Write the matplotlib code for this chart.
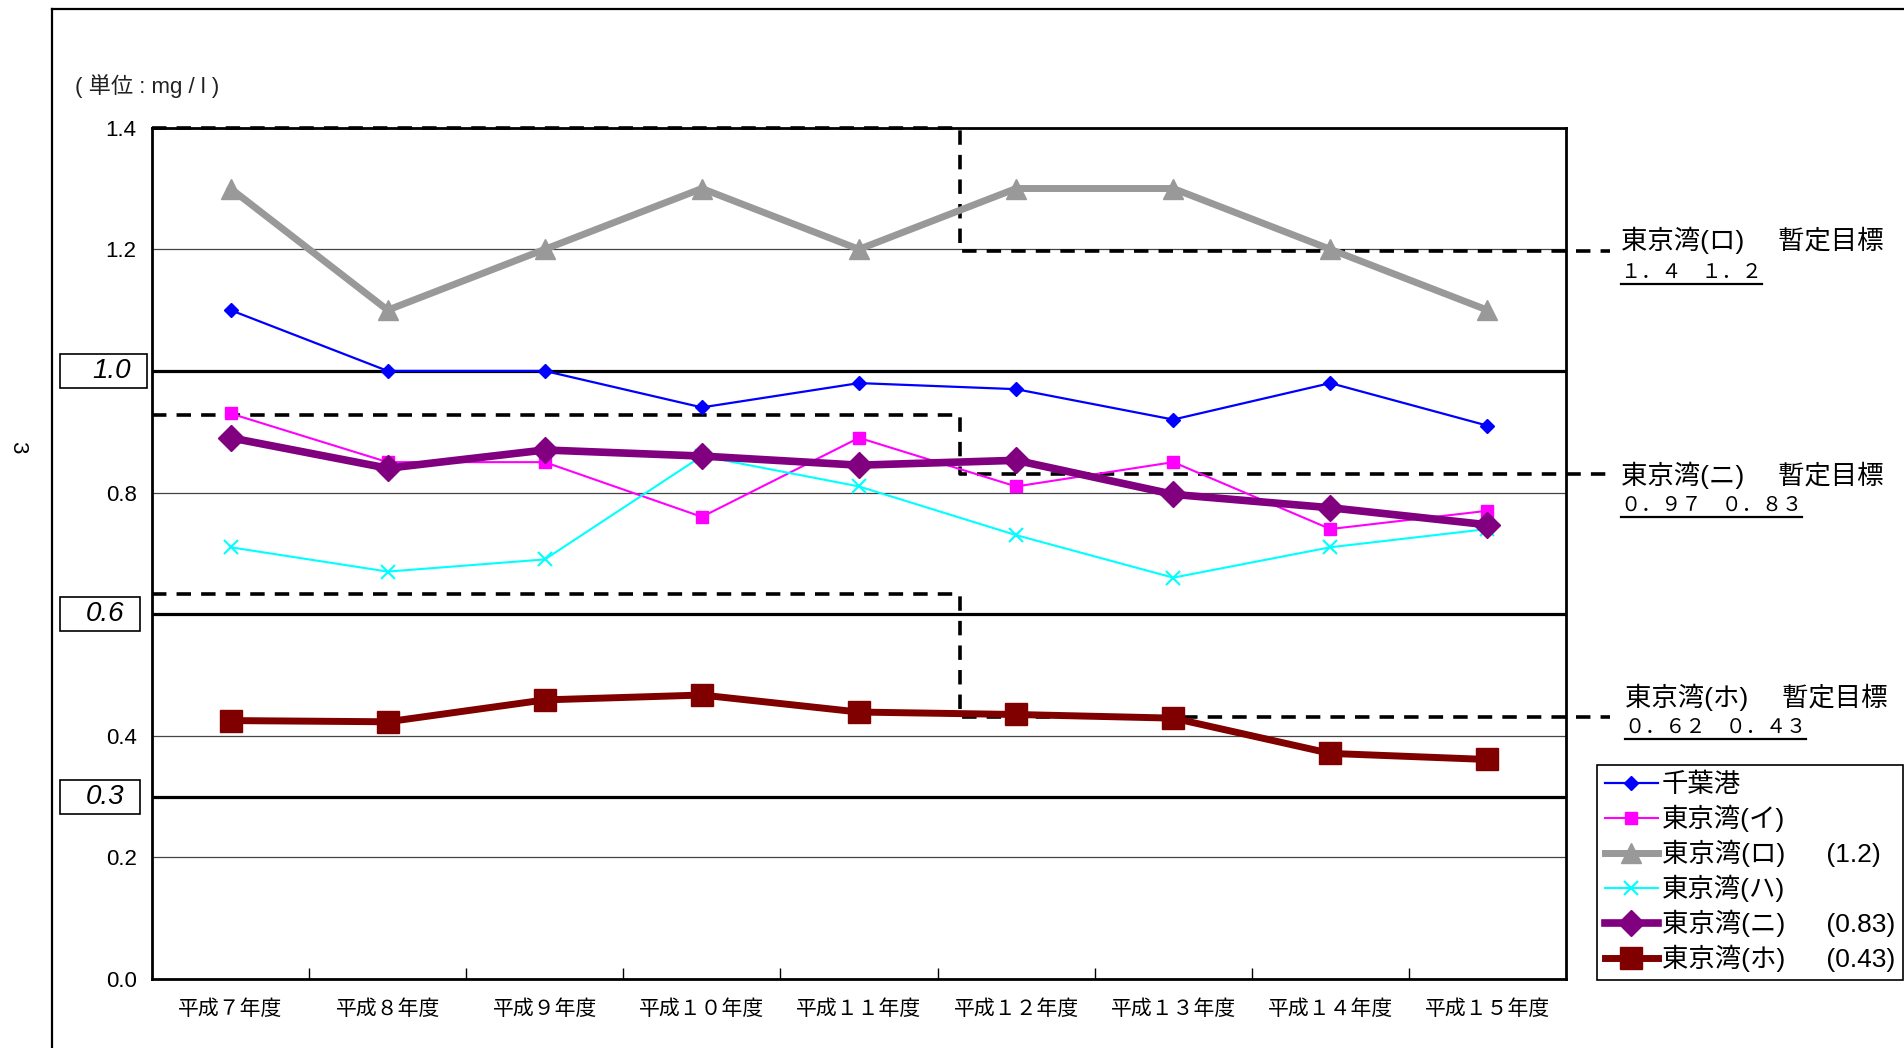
import numpy as np
import matplotlib
matplotlib.use("Agg")
import matplotlib.pyplot as plt
from matplotlib.lines import Line2D
from matplotlib.patches import Rectangle
from matplotlib.transforms import blended_transform_factory

plt.rcParams['font.family'] = ['Liberation Sans', 'Noto Sans CJK JP', 'DejaVu Sans']

years = ['平成７年度', '平成８年度', '平成９年度', '平成１０年度', '平成１１年度',
         '平成１２年度', '平成１３年度', '平成１４年度', '平成１５年度']

chiba = [1.10, 1.00, 1.00, 0.94, 0.98, 0.97, 0.92, 0.98, 0.91]
wan_i = [0.93, 0.85, 0.85, 0.76, 0.89, 0.81, 0.85, 0.74, 0.77]
wan_ro = [1.3, 1.1, 1.2, 1.3, 1.2, 1.3, 1.3, 1.2, 1.1]
wan_ha = [0.71, 0.67, 0.69, 0.86, 0.81, 0.73, 0.66, 0.71, 0.74]
wan_ni = [0.89, 0.84, 0.87, 0.86, 0.845, 0.853, 0.797, 0.775, 0.747]
wan_ho = [0.425, 0.423, 0.459, 0.467, 0.439, 0.435, 0.429, 0.371, 0.361]

labels = ['千葉港', '東京湾(イ)', '東京湾(ロ)　  (1.2)', '東京湾(ハ)',
          '東京湾(ニ)　  (0.83)', '東京湾(ホ)　  (0.43)']

# environmental standard lines (boxed values on the left)
std_lines = [1.0, 0.6, 0.3]
# provisional target steps as drawn in the chart: (before, after)
target_levels = [(1.4, 1.198), (0.927, 0.831), (0.633, 0.431)]
target_names = ['東京湾(ロ)　 暫定目標', '東京湾(ニ)　 暫定目標', '東京湾(ホ)　 暫定目標']
target_texts = ['１．４　１．２', '０．９７　０．８３', '０．６２　０．４３']

W, H = 1904, 1048
fig = plt.figure(figsize=(W / 100, H / 100), dpi=100)
ax = fig.add_axes([152 / W, 1 - 979 / H, (1566 - 152) / W, (979 - 127.7) / H])

x = np.arange(len(years))

yt = np.arange(0, 1.41, 0.2)
ax.set_xlim(-0.5, len(years) - 0.5)
ax.set_ylim(0, 1.4)
ax.set_yticks(yt)
ax.set_yticklabels(['' if round(v, 1) in (0.6, 1.0) else '%.1f' % v for v in yt], fontsize=16)
ax.set_xticks(np.arange(0.5, len(years) - 1, 1))
ax.set_xticklabels([])
ax.set_xticks(x, minor=True)
ax.set_xticklabels(years, minor=True, fontsize=15, family=['Noto Sans CJK JP'])
ax.tick_params(axis='x', which='major', direction='in', length=8, width=1)
ax.tick_params(axis='x', which='minor', length=0, pad=14)
ax.tick_params(axis='y', direction='in', length=0, pad=11)
for sp in ax.spines.values():
    sp.set_linewidth(2)
ax.yaxis.grid(True, color='#444444', linewidth=0.9)
ax.set_axisbelow(True)

for v in std_lines:
    ax.axhline(v, color='black', linewidth=2.3, zorder=2)

# provisional target dashed steps
xs = 4.64
xend = 8.78
dash = dict(color='black', linewidth=2.6, linestyle=(0, (4, 2.8)), clip_on=False, zorder=3)
for before, after in target_levels:
    ax.plot([-0.5, xs, xs, xend], [before, before, after, after], **dash)

ax.plot(x, chiba, color='#0000FF', lw=1.6, marker='D', ms=7, zorder=5)
ax.plot(x, wan_i, color='#FF00FF', lw=1.5, marker='s', ms=9, zorder=5)
ax.plot(x, wan_ro, color='#999999', lw=5, marker='^', ms=15, zorder=5)
ax.plot(x, wan_ha, color='#00FFFF', lw=1.5, marker='x', ms=10, mew=1.5, zorder=5)
ax.plot(x, wan_ni, color='#800080', lw=5.5, marker='D', ms=13, zorder=6)
ax.plot(x, wan_ho, color='#800000', lw=5, marker='s', ms=16, zorder=6)

handles = [
    Line2D([], [], color='#0000FF', lw=1.6, marker='D', ms=7),
    Line2D([], [], color='#FF00FF', lw=1.5, marker='s', ms=9),
    Line2D([], [], color='#999999', lw=5, marker='^', ms=15),
    Line2D([], [], color='#00FFFF', lw=1.5, marker='x', ms=10, mew=1.5),
    Line2D([], [], color='#800080', lw=5.5, marker='D', ms=13),
    Line2D([], [], color='#800000', lw=5, marker='s', ms=16),
]
leg = fig.legend(handles, labels, loc='upper left', bbox_to_anchor=(1597 / W, 1 - 765 / H),
                 prop={'size': 19}, frameon=True, fancybox=False, edgecolor='black',
                 framealpha=1, borderpad=0.3, labelspacing=0.29, handlelength=2.0,
                 handletextpad=0.15, borderaxespad=0)
leg.get_frame().set_linewidth(1.2)

# boxed standard values on the left
tr = blended_transform_factory(fig.transFigure, ax.transData)
box_w = [87, 80, 80]
for v, bw in zip(std_lines, box_w):
    ax.add_artist(Rectangle((60 / W, v - 0.028), bw / W, 0.056, transform=tr,
                            fill=True, fc='white', ec='black', lw=1.2, clip_on=False))
    ax.text((60 + bw - 16) / W, v, '%.1f' % v, transform=tr, ha='right', va='center',
            fontsize=20, style='italic', clip_on=False)

# annotations for provisional targets
ann_y = [(240, 272), (475, 505), (697, 727)]
ann_x = [1621, 1621, 1625]
subs = []
for name, txt, (y1, y2), xa in zip(target_names, target_texts, ann_y, ann_x):
    fig.text(xa / W, 1 - y1 / H, name, fontsize=19, ha='left', va='center')
    t = fig.text(xa / W, 1 - y2 / H, txt, fontsize=14.5, ha='left', va='center',
                 family=['Noto Sans CJK JP'])
    subs.append(t)

fig.text(75 / W, 1 - 86 / H, '( 単位 : mg / l )', fontsize=16, ha='left', va='center', color='#222222')
fig.text(18 / W, 1 - 447 / H, '3', fontsize=16, rotation=270, ha='center', va='center')

# outer frame
fig.add_artist(Line2D([52 / W, 52 / W], [0, 1 - 9 / H], color='black', lw=1.6))
fig.add_artist(Line2D([52 / W, 1], [1 - 9 / H, 1 - 9 / H], color='black', lw=1.6))

# underline the target values
fig.canvas.draw()
r = fig.canvas.get_renderer()
for t in subs:
    bb = t.get_window_extent(r)
    fig.add_artist(Line2D([bb.x0 / W, bb.x1 / W], [(bb.y0 - 1) / H, (bb.y0 - 1) / H],
                          color='black', lw=1.6))

fig.savefig('out.png', dpi=100)
